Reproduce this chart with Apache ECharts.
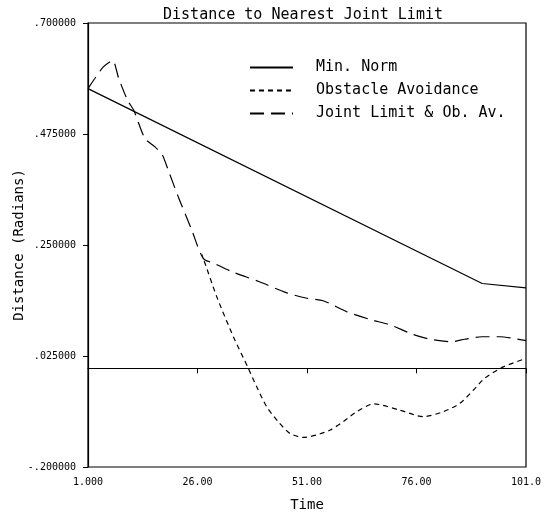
<!DOCTYPE html>
<html>
<head>
<meta charset="utf-8">
<script src="https://cdn.jsdelivr.net/npm/echarts@6/dist/echarts.min.js"></script>
<style>
html,body{margin:0;padding:0;background:#fff;}
#chart{width:546px;height:515px;}
</style>
</head>
<body>
<div id="chart"></div>
<script>
const xTickLabels = ['1.000', '26.00', '51.00', '76.00', '101.0'];
const yTickLabels = ['-.200000', '.025000', '.250000', '.475000', '.700000'];
const seriesNames = ['Min. Norm', 'Obstacle Avoidance', 'Joint Limit & Ob. Av.'];

const minNormX = [1, 91, 101];
const minNormY = [0.567, 0.172, 0.163];

const obstacleX = [1, 2.6, 4.5, 6.6, 8, 10, 11.5, 14, 16.3, 18, 19.3, 21.6, 24.7, 27.3, 30.4, 34.2, 37.6, 39.5, 41.8, 44.4, 47.1, 50.2, 53.2, 56.3, 59.3, 62.3, 66.3, 72.2, 77.6, 82.1, 85.9, 89, 91.6, 95.8, 101];
const obstacleY = [0.567, 0.588, 0.611, 0.624, 0.588, 0.544, 0.522, 0.466, 0.449, 0.432, 0.402, 0.348, 0.280, 0.223, 0.145, 0.064, 0.000, -0.037, -0.078, -0.108, -0.132, -0.140, -0.135, -0.125, -0.108, -0.088, -0.072, -0.085, -0.098, -0.088, -0.071, -0.044, -0.020, 0.003, 0.020];

const jointX = [1, 2.6, 4.5, 6.6, 8, 10, 11.5, 14, 16.3, 18, 19.3, 21.6, 24.7, 27.3, 30, 33.8, 40, 46.4, 51, 54.7, 60, 65.4, 70, 75, 79.1, 84, 87, 90.9, 95.1, 98, 101];
const jointY = [0.567, 0.588, 0.611, 0.624, 0.588, 0.544, 0.522, 0.466, 0.449, 0.432, 0.402, 0.348, 0.280, 0.223, 0.212, 0.196, 0.176, 0.153, 0.142, 0.137, 0.115, 0.099, 0.088, 0.0695, 0.059, 0.054, 0.059, 0.064, 0.064, 0.061, 0.056];

// where the two dashed curves stop coinciding (shared part drawn once, as in the plot)
const splitX = 27.3;
const zeroLineY = 0;

const xMin = 1, xMax = 101, xStep = 25;
const yMin = -0.2, yMax = 0.7, yStep = 0.225;

function zip(xs, ys) { return xs.map((x, i) => [x, ys[i]]); }

// fraction of the obstacle curve's horizontal extent that coincides with the joint-limit curve
const obsFirst = obstacleX[0], obsLast = obstacleX[obstacleX.length - 1];
const splitFrac = (splitX - obsFirst) / (obsLast - obsFirst);
const obstacleColor = new echarts.graphic.LinearGradient(0, 0, 1, 0, [
  {offset: 0, color: 'rgba(0,0,0,0)'},
  {offset: splitFrac, color: 'rgba(0,0,0,0)'},
  {offset: splitFrac, color: '#000'},
  {offset: 1, color: '#000'}
]);

const mono = 'DejaVu Sans Mono';
const chart = echarts.init(document.getElementById('chart'), null, {renderer: 'canvas'});
chart.setOption({
  backgroundColor: '#fff',
  animation: false,
  title: {
    text: 'Distance to Nearest Joint Limit',
    left: 298, top: 3, textAlign: 'center',
    textStyle: {fontFamily: mono, fontSize: 15, fontWeight: 'normal', color: '#000'}
  },
  legend: {
    orient: 'vertical', left: 249, top: 60, padding: 0,
    itemWidth: 43, itemHeight: 14, itemGap: 8,
    itemStyle: {color: 'rgba(0,0,0,0)', borderWidth: 0},
    textStyle: {fontFamily: mono, fontSize: 15, lineHeight: 14, color: '#000', padding: [0, 0, 0, 18]},
    data: [
      {name: seriesNames[0], lineStyle: {color: '#000'}},
      {name: seriesNames[1], lineStyle: {color: '#000'}},
      {name: seriesNames[2], lineStyle: {color: '#000'}}
    ]
  },
  grid: {left: 88, right: 20, top: 23, bottom: 48, outerBoundsMode: 'none', containLabel: false,
    show: true, borderColor: '#000', borderWidth: 1.2},
  xAxis: {
    type: 'value', min: xMin, max: xMax, interval: xStep,
    name: 'Time', nameLocation: 'middle', nameGap: 31, nameMoveOverlap: false,
    nameTextStyle: {fontFamily: mono, fontSize: 14, color: '#000'},
    axisLine: {show: true, lineStyle: {color: '#000', width: 1.2}},
    axisTick: {show: true, length: 5, lineStyle: {color: '#000'}},
    axisLabel: {fontFamily: mono, fontSize: 10, color: '#000', margin: 10,
      formatter: v => xTickLabels[Math.round((v - xMin) / xStep)]},
    splitLine: {show: false}
  },
  yAxis: {
    type: 'value', min: yMin, max: yMax, interval: yStep,
    name: 'Distance (Radians)', nameLocation: 'middle', nameGap: 62, nameMoveOverlap: false,
    nameTextStyle: {fontFamily: mono, fontSize: 14, color: '#000'},
    axisLine: {show: true, lineStyle: {color: '#000', width: 1.2}},
    axisTick: {show: true, length: 5, lineStyle: {color: '#000'}},
    axisLabel: {fontFamily: mono, fontSize: 10, color: '#000', margin: 12,
      formatter: v => yTickLabels[Math.round((v - yMin) / yStep)]},
    splitLine: {show: false}
  },
  series: [
    {
      name: seriesNames[0], type: 'line', data: zip(minNormX, minNormY),
      symbol: 'none', lineStyle: {color: '#000', width: 1.2, type: 'solid'},
      itemStyle: {color: '#000'},
      markLine: {
        silent: true, symbol: 'none', label: {show: false},
        lineStyle: {color: '#000', width: 1.2, type: 'solid'},
        data: [{yAxis: zeroLineY}]
      }
    },
    {
      name: seriesNames[1], type: 'line', data: zip(obstacleX, obstacleY),
      symbol: 'none', smooth: 0.25,
      lineStyle: {color: obstacleColor, width: 1.2, type: [5, 4]},
      itemStyle: {color: '#000'}
    },
    {
      name: seriesNames[2], type: 'line', data: zip(jointX, jointY),
      symbol: 'none', smooth: 0.25,
      lineStyle: {color: '#000', width: 1.2, type: [14, 7]},
      itemStyle: {color: '#000'}
    }
  ]
});
</script>
</body>
</html>
